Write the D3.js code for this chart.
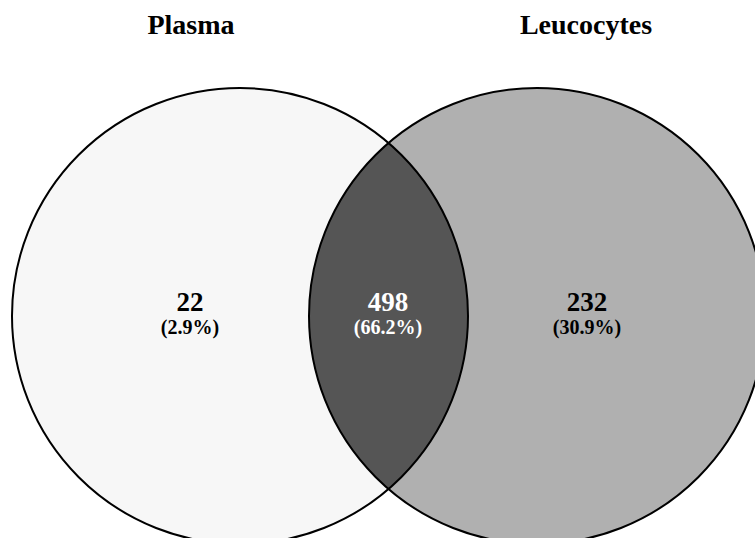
<!DOCTYPE html>
<html>
<head>
<meta charset="utf-8">
<script src="https://cdn.jsdelivr.net/npm/d3@7"></script>
<style>
  html, body { margin: 0; padding: 0; background: #fff; }
  svg { display: block; }
  text { font-family: "Liberation Serif", "Times New Roman", serif; font-weight: bold; }
</style>
</head>
<body>
<svg id="chart" width="755" height="538"></svg>
<script>
// Data
const setNames = ["Plasma", "Leucocytes"];
const regionNames = ["Plasma only", "Both", "Leucocytes only"];
const regionCounts = [22, 498, 232];
const regionPercents = ["(2.9%)", "(66.2%)", "(30.9%)"];

const W = 755, H = 538;
const svg = d3.select("#chart");

// layout
const r = 228;
const cy = 316;
const x = d3.scaleLinear().domain([0, 1]).range([240, 537]); // set centre positions
const circles = setNames.map((n, i) => ({ name: n, cx: x(i), cy: cy, r: r }));

const fills = ["#f7f7f7", "#b0b0b0"];
const interFill = "#555555";

const defs = svg.append("defs");
defs.append("clipPath").attr("id", "clipLeft")
  .append("circle").attr("cx", circles[0].cx).attr("cy", cy).attr("r", r);

svg.selectAll("circle.fill").data(circles).enter().append("circle")
  .attr("class", "fill")
  .attr("cx", d => d.cx).attr("cy", d => d.cy).attr("r", d => d.r)
  .attr("fill", (d, i) => fills[i]);

svg.append("circle")
  .attr("cx", circles[1].cx).attr("cy", cy).attr("r", r)
  .attr("fill", interFill)
  .attr("clip-path", "url(#clipLeft)");

svg.selectAll("circle.stroke").data(circles).enter().append("circle")
  .attr("class", "stroke")
  .attr("cx", d => d.cx).attr("cy", d => d.cy).attr("r", d => d.r)
  .attr("fill", "none").attr("stroke", "#000").attr("stroke-width", 2);

// set titles
const titleX = [191, 586];
svg.selectAll("text.title").data(setNames).enter().append("text")
  .attr("class", "title")
  .attr("x", (d, i) => titleX[i]).attr("y", 34)
  .attr("text-anchor", "middle")
  .attr("font-size", 28)
  .attr("fill", "#000")
  .text(d => d);

// region labels
const regionX = [190, 388, 587];
const textFill = ["#000", "#fff", "#000"];
const g = svg.selectAll("g.region").data(regionCounts).enter().append("g").attr("class", "region");
g.append("text")
  .attr("x", (d, i) => regionX[i]).attr("y", 311)
  .attr("text-anchor", "middle").attr("font-size", 27)
  .attr("fill", (d, i) => textFill[i])
  .text(d => d);
g.append("text")
  .attr("x", (d, i) => regionX[i]).attr("y", 334)
  .attr("text-anchor", "middle").attr("font-size", 20)
  .attr("fill", (d, i) => textFill[i])
  .text((d, i) => regionPercents[i]);
</script>
</body>
</html>
